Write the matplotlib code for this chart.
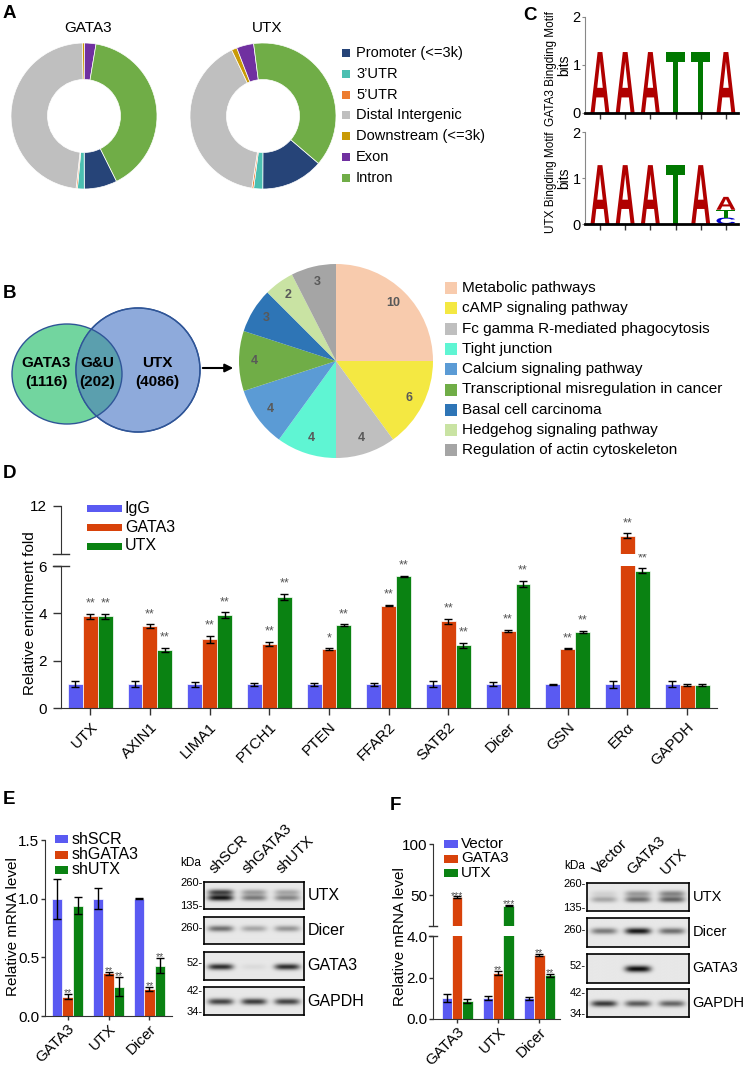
import numpy as np
import matplotlib
matplotlib.use('Agg')
import matplotlib.pyplot as plt
from matplotlib import font_manager
from matplotlib.patches import Rectangle, Ellipse, Circle, PathPatch
from matplotlib.textpath import TextPath
from matplotlib.font_manager import FontProperties
from matplotlib.transforms import Affine2D

plt.rcParams['font.family'] = ['Liberation Sans', 'DejaVu Sans']

W, H = 747, 1069

# ---------------- data ----------------
# A: genomic distribution of peaks (%)
anno_labels = ['Promoter (<=3k)', '3’UTR', '5’UTR', 'Distal Intergenic',
               'Downstream (<=3k)', 'Exon', 'Intron']
anno_colors = ['#264478', '#4bbfb1', '#ed7d31', '#bfbfbf', '#c99a06', '#7030a0', '#70ad47']
gata3_anno = [7.3, 1.5, 0.3, 47.9, 0.5, 2.5, 40.0]
utx_anno = [13.8, 2.0, 0.4, 40.5, 1.2, 3.8, 38.3]

# B: overlap and KEGG terms
venn_names = ['GATA3', 'G&U', 'UTX']
venn_counts = [1116, 202, 4086]
kegg_terms = ['Metabolic pathways', 'cAMP signaling pathway',
              'Fc gamma R-mediated phagocytosis', 'Tight junction',
              'Calcium signaling pathway', 'Transcriptional misregulation in cancer',
              'Basal cell carcinoma', 'Hedgehog signaling pathway',
              'Regulation of actin cytoskeleton']
kegg_counts = [10, 6, 4, 4, 4, 4, 3, 2, 3]
kegg_colors = ['#f8cbad', '#f4e842', '#bfbfbf', '#5ff5d3', '#5b9bd5', '#70ad47',
               '#2e75b6', '#c9e3a3', '#a5a5a5']

# C: motifs, (letter, bits) stacked from the bottom
gata3_motif = [[('A', 1.27)], [('A', 1.27)], [('A', 1.27)],
               [('T', 1.27)], [('T', 1.27)], [('A', 1.27)]]
utx_motif = [[('A', 1.28)], [('A', 1.28)], [('A', 1.28)],
             [('T', 1.28)], [('A', 1.28)], [('C', 0.14), ('T', 0.17), ('A', 0.28)]]

# D: ChIP-qPCR
chip_genes = ['UTX', 'AXIN1', 'LIMA1', 'PTCH1', 'PTEN', 'FFAR2', 'SATB2', 'Dicer', 'GSN', 'ERα', 'GAPDH']
chip_igg = [1.0, 1.0, 1.0, 1.0, 1.0, 1.0, 1.0, 1.0, 1.0, 1.0, 1.0]
chip_igg_err = [0.12, 0.13, 0.1, 0.05, 0.06, 0.07, 0.12, 0.08, 0.02, 0.15, 0.12]
chip_gata3 = [3.87, 3.45, 2.9, 2.7, 2.48, 4.32, 3.66, 3.25, 2.5, 8.3, 0.96]
chip_gata3_err = [0.12, 0.09, 0.14, 0.1, 0.05, 0.03, 0.1, 0.05, 0.02, 0.3, 0.05]
chip_utx = [3.87, 2.45, 3.92, 4.7, 3.5, 5.56, 2.65, 5.25, 3.2, 5.8, 0.96]
chip_utx_err = [0.12, 0.09, 0.13, 0.13, 0.04, 0.03, 0.11, 0.13, 0.05, 0.1, 0.05]
chip_igg_sig = [''] * 11
chip_gata3_sig = ['**', '**', '**', '**', '*', '**', '**', '**', '**', '**', '']
chip_utx_sig = ['**', '**', '**', '**', '**', '**', '**', '**', '**', '**', '']

# E: knockdown qPCR
e_genes = ['GATA3', 'UTX', 'Dicer']
e_groups = ['shSCR', 'shGATA3', 'shUTX']
e_shscr = [1.0, 1.0, 1.0]
e_shscr_err = [0.17, 0.09, 0.005]
e_shgata3 = [0.165, 0.365, 0.23]
e_shgata3_err = [0.02, 0.012, 0.015]
e_shutx = [0.94, 0.25, 0.43]
e_shutx_err = [0.07, 0.08, 0.066]
e_sig = [['', '', ''], ['**', '**', '**'], ['', '**', '**']]

# F: overexpression qPCR
f_genes = ['GATA3', 'UTX', 'Dicer']
f_groups = ['Vector', 'GATA3', 'UTX']
f_vector = [1.0, 1.0, 1.0]
f_vector_err = [0.2, 0.1, 0.08]
f_gata3 = [48.0, 2.2, 3.1]
f_gata3_err = [0.8, 0.1, 0.05]
f_utx = [0.88, 40.0, 2.1]
f_utx_err = [0.1, 0.8, 0.08]
f_sig = [['', '', ''], ['***', '**', '**'], ['', '***', '**']]

# western blots: band intensity per lane (one value per band row)
blot_proteins = ['UTX', 'Dicer', 'GATA3', 'GAPDH']
blot_markers = [['260', '135'], ['260'], ['52'], ['42', '34']]
e_blot = [[[0.75, 0.95], [0.35, 0.5], [0.3, 0.45]],
          [[0.55, 0.35], [0.3, 0.2], [0.38, 0.2]],
          [[0.85], [0.06], [0.85]],
          [[0.75], [0.78], [0.75]]]
f_blot = [[[0.1, 0.3], [0.35, 0.55], [0.45, 0.6]],
          [[0.5], [0.95], [0.55]],
          [[0.0], [1.0], [0.0]],
          [[0.8], [0.65], [0.6]]]

bar_colors = ['#5a5af2', '#d8420a', '#0a8212']

# ---------------- layout helpers ----------------
fig = plt.figure(figsize=(W / 100, H / 100), dpi=100)
ov = fig.add_axes([0, 0, 1, 1], zorder=10)
ov.set_xlim(0, W)
ov.set_ylim(H, 0)
ov.axis('off')


def add_ax(x0, y0, x1, y1, **kw):
    return fig.add_axes([x0 / W, 1 - y1 / H, (x1 - x0) / W, (y1 - y0) / H], **kw)


def style(ax, keep=('left', 'bottom'), color='#333333'):
    for s in ax.spines:
        ax.spines[s].set_visible(s in keep)
        ax.spines[s].set_color(color)
    ax.tick_params(colors=color, labelcolor='black')


def bar_groups(axes, vals, errs, sigs, width, split, star_size, star_off):
    x = np.arange(len(vals[0]))
    for k in range(len(vals)):
        xs = x + (k - 1) * width
        for ax in axes:
            ax.bar(xs, vals[k], width, color=bar_colors[k], edgecolor='white', linewidth=0.5, zorder=2)
        for xi, v, e, s in zip(xs, vals[k], errs[k], sigs[k]):
            ax = axes[-1] if (len(axes) > 1 and v > split) else axes[0]
            ax.errorbar(xi, v, yerr=e, fmt='none', ecolor='black', elinewidth=1, capsize=3, capthick=1, zorder=3)
            if s:
                ax.annotate(s, (xi, v + e), xytext=(0, star_off), textcoords='offset points',
                            ha='center', va='bottom', fontsize=star_size, color='#555555')


def break_marks(ax_lo, ax_hi, half_px, color='#333333'):
    for ax, y in ((ax_lo, 1), (ax_hi, 0)):
        w = ax.get_position().width * W
        ax.plot([-half_px / w, half_px / w], [y, y], transform=ax.transAxes,
                color=color, lw=1, clip_on=False)


def legend_rows(x, y0, dy, labels, colors, w, h, size, textx, family=None):
    for i, (lab, col) in enumerate(zip(labels, colors)):
        y = y0 + dy * i
        ov.add_patch(Rectangle((x, y - h / 2), w, h, color=col, lw=0))
        kw = {'family': family} if family else {}
        ov.text(textx, y, lab, va='center', ha='left', fontsize=size, **kw)


for letter, (px, py) in zip('ABCDEF', [(3, 14), (3, 293), (523, 15), (3, 473), (3, 800), (390, 805)]):
    ov.text(px, py, letter, fontsize=13.5, fontweight='bold', ha='left', va='center')

# ---------------- A ----------------
for vals, title, cx, start in [(gata3_anno, 'GATA3', 84, -63.5), (utx_anno, 'UTX', 263, -40.5)]:
    ax = add_ax(cx - 73, 116 - 73, cx + 73, 116 + 73)
    ax.pie(vals, colors=anno_colors, startangle=start, counterclock=False, radius=1,
           wedgeprops=dict(width=0.5, edgecolor='white', linewidth=0.5))
    ax.set_xlim(-1, 1)
    ax.set_ylim(-1, 1)
    ov.text(cx + 4, 28, title, ha='center', va='center', fontsize=11)
legend_rows(342, 53, 20.8, anno_labels, anno_colors, 8, 8, 10.5, 356)

# ---------------- B ----------------
g_ell = Ellipse((67, 374), 110, 100, fc='#72d59f', ec='#2f5597', lw=1)
u_circ = Circle((138, 370), 62, fc='#8eaadb', ec='#2f5597', lw=1)
ov.add_patch(g_ell)
ov.add_patch(u_circ)
overlap = Ellipse((67, 374), 110, 100, fc='#5b9fae', ec='#2f5597', lw=1)
ov.add_patch(overlap)
overlap.set_clip_path(u_circ)
ov.add_patch(Circle((138, 370), 62, fc='none', ec='#2f5597', lw=1))
for name, cnt, cx in zip(venn_names, venn_counts, [46, 97, 157]):
    ov.text(cx, 363, name, ha='center', va='center', fontsize=11, fontweight='bold')
    ov.text(cx, 382, '(%d)' % cnt, ha='center', va='center', fontsize=11, fontweight='bold')
ov.annotate('', xy=(236, 368), xytext=(200, 368),
            arrowprops=dict(arrowstyle='-|>', color='black', lw=1.5, mutation_scale=12))

ax = add_ax(239, 264, 433, 458)
total = sum(kegg_counts)
ax.pie(kegg_counts, colors=kegg_colors, startangle=90, counterclock=False,
       autopct=lambda p: '%d' % round(p * total / 100), pctdistance=0.84,
       textprops=dict(color='#595959', fontsize=9, fontweight='bold'),
       wedgeprops=dict(linewidth=0))
ax.set_xlim(-1, 1)
ax.set_ylim(-1, 1)

names = {f.name for f in font_manager.fontManager.ttflist}
if 'Liberation Sans Narrow' in names:
    legend_rows(445, 288, 20.3, kegg_terms, kegg_colors, 12, 12, 13, 462, family='Liberation Sans Narrow')
else:
    legend_rows(445, 288, 20.3, kegg_terms, kegg_colors, 12, 12, 11, 462)

# ---------------- C ----------------
logo_font = FontProperties(family='Liberation Sans', weight='bold')
letter_colors = {'A': '#b00000', 'C': '#0000c8', 'G': '#ffb300', 'T': '#007800'}


def draw_letter(ax, ch, x, y, w, h):
    tp = TextPath((0, 0), ch, size=1, prop=logo_font)
    bb = tp.get_extents()
    tr = Affine2D().translate(-bb.x0, -bb.y0).scale(w / bb.width, h / bb.height).translate(x, y)
    ax.add_patch(PathPatch(tr.transform_path(tp), color=letter_colors[ch], lw=0))


for motif, (y0, y1), name in [(gata3_motif, (17, 113), 'GATA3 Bingding Motif'),
                              (utx_motif, (132, 224), 'UTX Bingding Motif')]:
    ax = add_ax(585, y0, 738, y1)
    for pos, col in enumerate(motif, start=1):
        base = 0
        for ch, h in col:
            draw_letter(ax, ch, pos - 0.375, base, 0.75, h)
            base += h
    ax.set_xlim(0.405, 6.48)
    ax.set_ylim(0, 2)
    for s in ('top', 'right'):
        ax.spines[s].set_visible(False)
    ax.spines['left'].set_color('#888888')
    ax.spines['left'].set_linewidth(0.8)
    ax.spines['bottom'].set_linewidth(2)
    ax.set_xticks(range(1, len(motif) + 1))
    ax.set_xticklabels([])
    ax.set_yticks([0, 1, 2])
    ax.tick_params(axis='x', length=4, width=1, color='#333333')
    ax.tick_params(axis='y', length=2, width=0.8, pad=1, labelsize=10.5, color='#888888')
    ax.set_ylabel('bits', fontsize=10)
    ax.yaxis.set_label_coords(-0.09, 0.5)
    ov.text(551, (y0 + y1) / 2 + 4, name, rotation=90, ha='center', va='center', fontsize=8.5)

# ---------------- D ----------------
ax_lo = add_ax(61, 566, 717, 708)
ax_hi = add_ax(61, 506, 717, 554)
bar_groups([ax_lo, ax_hi], [chip_igg, chip_gata3, chip_utx],
           [chip_igg_err, chip_gata3_err, chip_utx_err],
           [chip_igg_sig, chip_gata3_sig, chip_utx_sig], 0.25, 6, 9, 3)
for ax in (ax_lo, ax_hi):
    ax.set_xlim(-0.49, 10.5)
    ax.tick_params(axis='y', length=6, width=1, pad=4, labelsize=11)
ax_lo.set_ylim(0, 6)
ax_hi.set_ylim(6, 12)
ax_lo.set_yticks([0, 2, 4, 6])
ax_hi.set_yticks([12])
ax_hi.set_xticks([])
ax_lo.set_xticks(np.arange(len(chip_genes)))
ax_lo.set_xticklabels(chip_genes, rotation=45, ha='right', va='top', rotation_mode='anchor', fontsize=11)
ax_lo.tick_params(axis='x', length=5, width=1)
style(ax_lo)
style(ax_hi, keep=('left',))
break_marks(ax_lo, ax_hi, 8)
ov.text(30, 613, 'Relative enrichment fold', rotation=90, ha='center', va='center', fontsize=11)
legend_rows(87, 508, 19, ['IgG', 'GATA3', 'UTX'], bar_colors, 35, 7, 11.5, 125)

# ---------------- E ----------------
ax = add_ax(45, 840, 172, 1016)
bar_groups([ax], [e_shscr, e_shgata3, e_shutx], [e_shscr_err, e_shgata3_err, e_shutx_err],
           e_sig, 0.25, None, 7.5, -3)
ax.set_xlim(-0.55, 2.55)
ax.set_ylim(0, 1.5)
ax.set_yticks([0, 0.5, 1.0, 1.5])
ax.set_yticklabels(['0.0', '0.5', '1.0', '1.5'])
ax.set_xticks(range(3))
ax.set_xticklabels(e_genes, rotation=45, ha='right', va='top', rotation_mode='anchor', fontsize=11)
ax.tick_params(length=3, width=1, pad=1, labelsize=11)
style(ax)
ov.text(13, 927, 'Relative mRNA level', rotation=90, ha='center', va='center', fontsize=11)
legend_rows(55, 839, 15.5, e_groups, bar_colors, 13, 8, 11.5, 72)

# ---------------- F ----------------
ax_flo = add_ax(433, 936, 560, 1019)
ax_fhi = add_ax(433, 844, 560, 926)
bar_groups([ax_flo, ax_fhi], [f_vector, f_gata3, f_utx], [f_vector_err, f_gata3_err, f_utx_err],
           f_sig, 0.25, 4, 7.5, -3)
for a in (ax_flo, ax_fhi):
    a.set_xlim(-0.585, 2.5)
    a.tick_params(length=3, width=1, pad=1, labelsize=11)
ax_flo.set_ylim(0, 4)
ax_fhi.set_ylim(20, 100)
ax_flo.set_yticks([0, 2, 4])
ax_flo.set_yticklabels(['0.0', '2.0', '4.0'])
ax_fhi.set_yticks([50, 100])
ax_fhi.set_xticks([])
ax_flo.set_xticks(range(3))
ax_flo.set_xticklabels(f_genes, rotation=45, ha='right', va='top', rotation_mode='anchor', fontsize=11)
style(ax_flo)
style(ax_fhi, keep=('left',))
break_marks(ax_flo, ax_fhi, 4)
ov.text(400, 937, 'Relative mRNA level', rotation=90, ha='center', va='center', fontsize=11)
legend_rows(444, 844, 14.5, f_groups, bar_colors, 14, 8, 11, 461)

# ---------------- blots ----------------
band_rows = [[0.62, 0.41], [0.55], [0.47], [0.46]]
marker_pos = [[0.04, 0.88], [0.42], [0.4], [0.14, 0.91]]


def draw_blot(ax, lanes, rows, sigma):
    xs = np.linspace(0, 3, 300)
    ys = np.linspace(0, 1, 80)
    X, Y = np.meshgrid(xs, ys)
    img = np.full(X.shape, 0.91)
    for i, ints in enumerate(lanes):
        for by, inten in zip(rows, ints):
            img -= 0.86 * inten * np.exp(-((X - i - 0.5) / 0.38) ** 4) * np.exp(-((Y - by) / sigma) ** 2)
    ax.imshow(np.clip(img, 0, 1), cmap='gray', vmin=0, vmax=1, extent=(0, 3, 0, 1),
              origin='lower', aspect='auto', interpolation='bilinear')
    ax.set_xticks([])
    ax.set_yticks([])
    for s in ax.spines.values():
        s.set_linewidth(1.2)


for blot, x0, x1, rows_px, lanes, kda_xy, psize in [
        (e_blot, 204, 304, [(882, 909), (917, 944), (952, 980), (987, 1015)], e_groups, (191, 863), 11.5),
        (f_blot, 587, 689, [(883, 911), (918, 947), (954, 983), (989, 1017)], f_groups, (575, 866), 10.5)]:
    for j, (y0, y1) in enumerate(rows_px):
        bax = add_ax(x0, y0, x1, y1)
        draw_blot(bax, blot[j], band_rows[j], 0.11)
        bax.text(1.035, 0.5, blot_proteins[j], transform=bax.transAxes, ha='left', va='center', fontsize=psize)
        for m, fy in zip(blot_markers[j], marker_pos[j]):
            bax.text(-0.015, 1 - fy, m + '-', transform=bax.transAxes, ha='right', va='center', fontsize=8)
        if j == 0:
            for i, lane in enumerate(lanes):
                bax.text(i + 0.38, 1.2, lane, rotation=45, ha='left', va='bottom',
                         rotation_mode='anchor', fontsize=11)
    ov.text(kda_xy[0], kda_xy[1], 'kDa', ha='center', va='center', fontsize=8.5)

fig.savefig('out.png', dpi=100)
